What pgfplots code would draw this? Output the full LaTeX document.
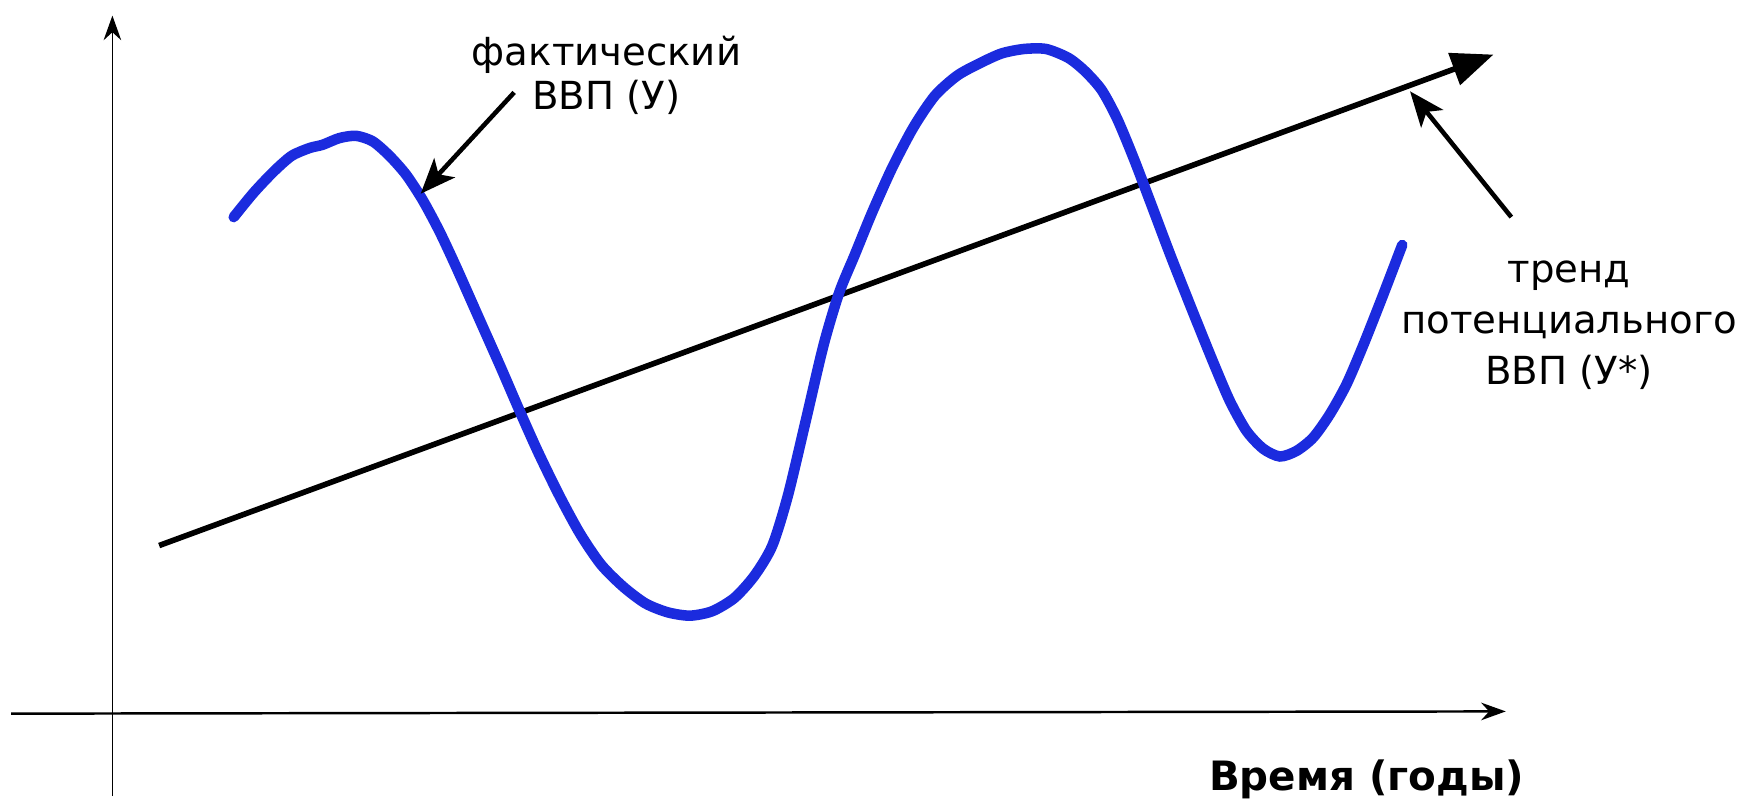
\documentclass[border=0pt]{standalone}
\usepackage{fontspec}
\setmainfont{DejaVu Sans}
\usepackage{pgfplots}
\pgfplotsset{compat=1.18}
\usetikzlibrary{arrows.meta}
\definecolor{gdpBlue}{RGB}{27,43,222}

\begin{document}
\begin{tikzpicture}
  \begin{axis}[
    width=17.45cm, height=8.06cm,
    scale only axis,
    hide axis,
    clip=false,
    xmin=0, xmax=1568,
    ymin=0, ymax=724,
    y dir=reverse,
  ]
    \coordinate (TL) at (axis cs:0,0);
    \coordinate (BR) at (axis cs:1568,724);
    % axes
    \addplot[black, line width=0.4pt, -{Stealth[length=7pt,width=5pt]}]
      coordinates {(101,715) (101,14)};
    \addplot[black, line width=0.7pt, -{Stealth[length=7pt,width=5pt]}]
      coordinates {(10,641) (1353,639)};
    % potential GDP trend
    \addplot[black, line width=1.6pt, -{Triangle[length=0.42cm,width=0.33cm]}]
      coordinates {(143,490) (1342,49)};
    % actual GDP
    \addplot[gdpBlue, line width=3pt, line cap=round, smooth, tension=0.45]
      coordinates {
        (210,195) (228,173) (246,154) (262,140) (278,133) (290,130)
        (305,124) (320,122) (335,127) (350,140) (365,157) (380,180)
        (395,208) (410,240) (430,285) (450,330) (466,367) (483,405)
        (502,444) (521,479) (540,507) (560,527) (580,542) (600,550)
        (620,553) (640,549) (660,537) (678,517) (694,490) (708,445)
        (724,378) (740,310) (754,263) (768,229) (784,190) (802,150)
        (821,114) (840,86) (860,68) (880,57) (900,48) (920,44)
        (940,44) (960,52) (975,64) (990,81) (1004,107) (1019,143)
        (1035,185) (1052,230) (1071,278) (1090,325) (1105,360)
        (1120,387) (1135,403) (1150,410) (1165,405) (1180,393)
        (1195,372) (1210,345) (1225,310) (1242,267) (1260,220)
      };
    % callout arrows
    \addplot[black, line width=1.3pt, -{Stealth[length=10pt,width=8pt,inset=2.5pt]}]
      coordinates {(462,83) (378,174)};
    \addplot[black, line width=1.3pt, -{Stealth[length=10pt,width=8pt,inset=2.5pt]}]
      coordinates {(1358,195) (1267,82)};
    % labels
    \node[align=center, font=\fontsize{11}{12.5}\selectfont]
      at (axis cs:545,68) {фактический\\ВВП (У)};
    \node[align=center, font=\fontsize{11}{14.5}\selectfont]
      at (axis cs:1410,292) {тренд\\потенциального\\ВВП (У*)};
    \node[font=\fontsize{11.5}{13}\selectfont\bfseries]
      at (axis cs:1228,700) {Время (годы)};
  \end{axis}
  \pgfresetboundingbox
  \path (TL) rectangle (BR);
\end{tikzpicture}
\end{document}
